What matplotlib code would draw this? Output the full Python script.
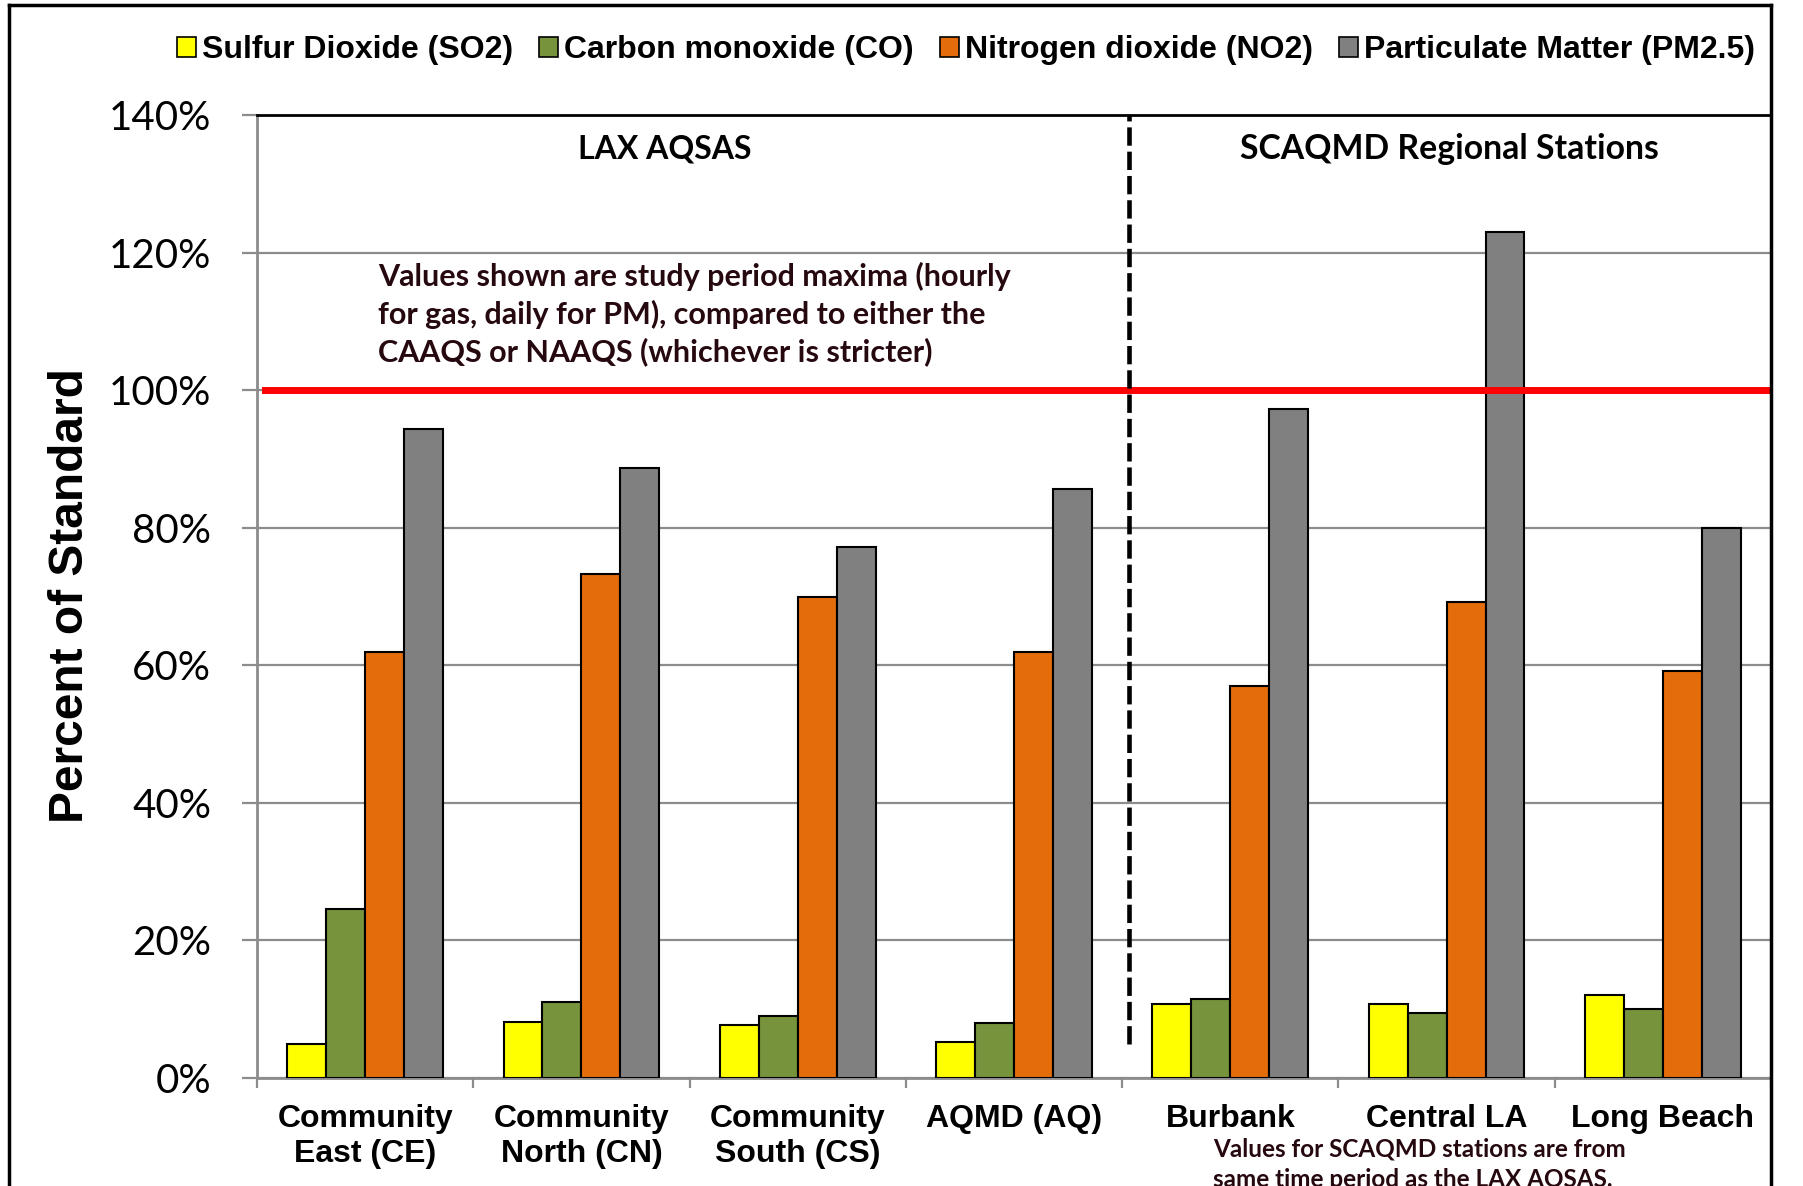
import numpy as np
import matplotlib
matplotlib.use('Agg')
import matplotlib.pyplot as plt
from matplotlib.lines import Line2D
from matplotlib.patches import Patch

stations = ['Community\nEast (CE)', 'Community\nNorth (CN)', 'Community\nSouth (CS)',
            'AQMD (AQ)', 'Burbank', 'Central LA', 'Long Beach']
pollutants = ['Sulfur Dioxide (SO2)', 'Carbon monoxide (CO)',
              'Nitrogen dioxide (NO2)', 'Particulate Matter (PM2.5)']
so2 = [5.0, 8.2, 7.7, 5.3, 10.7, 10.7, 12.0]
co = [24.6, 11.0, 9.0, 8.0, 11.5, 9.5, 10.0]
no2 = [62.0, 73.2, 70.0, 62.0, 57.0, 69.2, 59.1]
pm25 = [94.4, 88.7, 77.2, 85.7, 97.2, 123.0, 80.0]
colors = ['#FFFF00', '#77933C', '#E46C0A', '#808080']
yticks = [0, 20, 40, 60, 80, 100, 120, 140]

arial = ['Liberation Sans', 'DejaVu Sans']
calibri = ['Lato', 'DejaVu Sans']
note_color = '#26080f'

fig = plt.figure(figsize=(18.03, 11.86), dpi=100)
ax = fig.add_axes([257/1803, 1 - 1078/1186, (1771 - 257)/1803, (1078 - 115)/1186])

x = np.arange(len(stations))
w = 0.18
for i, vals in enumerate([so2, co, no2, pm25]):
    ax.bar(x + (i - 1.5)*w, vals, w, color=colors[i], edgecolor='black',
           linewidth=1.5, zorder=3)

ax.set_xlim(-0.5, 6.5)
ax.set_ylim(0, 140)
ax.set_yticks(yticks)
ax.set_yticklabels([f'{v}%' for v in yticks], fontsize=29, family=calibri)
ax.yaxis.grid(True, color='#8c8c8c', linewidth=1.6, zorder=0)
ax.tick_params(axis='y', length=11, width=1.6, color='#8c8c8c', pad=22)

ax.set_xticks(x)
ax.set_xticklabels(stations, fontsize=23, fontweight='bold', family=arial,
                   linespacing=1.2)
ax.tick_params(axis='x', length=0, pad=19)
ax.set_xticks(np.arange(-0.5, 7, 1), minor=True)
ax.tick_params(axis='x', which='minor', length=7, width=1.6, color='#8c8c8c')

for s in ['left', 'bottom']:
    ax.spines[s].set_color('#8c8c8c')
    ax.spines[s].set_linewidth(2)
for s in ['top', 'right']:
    ax.spines[s].set_color('black')
    ax.spines[s].set_linewidth(2)

# standard line and divider
ax.axhline(100, xmin=0.005, xmax=0.998, color='#FF0000', linewidth=5, zorder=4)
ax.plot([3.53, 3.53], [5, 140], color='black', linewidth=3.3,
        dashes=(4, 1.3), zorder=5, clip_on=False)

ax.text(1.386, 135, 'LAX AQSAS', fontsize=23, fontweight='bold', family=calibri,
        ha='center', va='center')
ax.text(5.011, 135, 'SCAQMD Regional Stations', fontsize=24.3, fontweight='bold',
        family=calibri, ha='center', va='center')
ax.text(0.06, 118.6, 'Values shown are study period maxima (hourly\n'
        'for gas, daily for PM), compared to either the\n'
        'CAAQS or NAAQS (whichever is stricter)',
        fontsize=22, fontweight='bold', family=calibri, color=note_color,
        ha='left', va='top', linespacing=1.34)

fig.text(1213/1803, 1 - 1137/1186, 'Values for SCAQMD stations are from\n'
         'same time period as the LAX AQSAS.', fontsize=17.5, fontweight='bold',
         family=calibri, color=note_color, ha='left', va='top', linespacing=1.42)

fig.text(71/1803, 1 - 596/1186, 'Percent of Standard', rotation=90, fontsize=34.5,
         fontweight='bold', family=arial, ha='center', va='center')

handles = [Patch(facecolor=c, edgecolor='black', linewidth=1.2) for c in colors]
fig.legend(handles, pollutants, loc='center', ncol=4, frameon=False,
           bbox_to_anchor=(966/1803, 1 - 50/1186),
           prop={'family': arial, 'weight': 'bold', 'size': 23},
           handlelength=0.6, handleheight=0.6, handletextpad=0.2,
           columnspacing=0.8)

# outer frame
for xs, ys in [([0.005, 0.982], [0.9958, 0.9958]),
               ([0.005, 0.005], [0, 0.9958]),
               ([0.982, 0.982], [0, 0.9958])]:
    fig.add_artist(Line2D(xs, ys, color='black', linewidth=2.5,
                          transform=fig.transFigure))

fig.savefig('out.png', dpi=100)
